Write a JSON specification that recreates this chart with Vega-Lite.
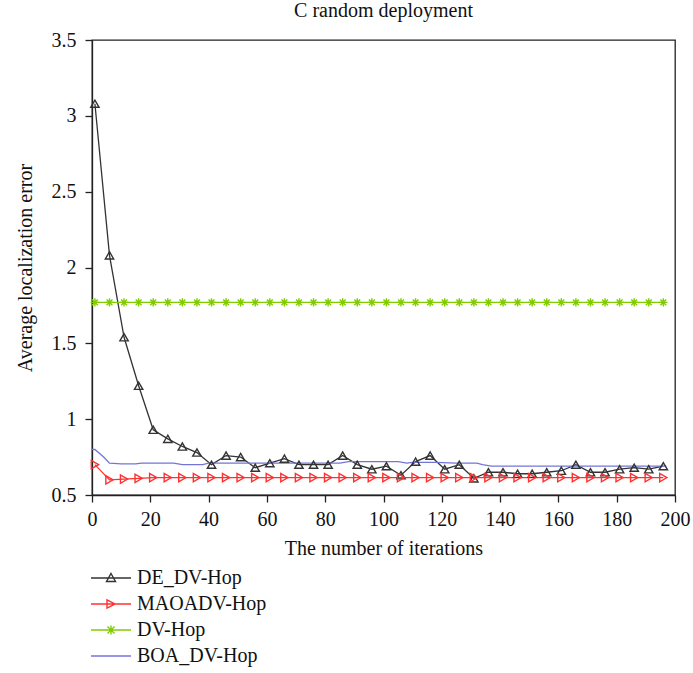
{
  "$schema": "https://vega.github.io/schema/vega-lite/v6.json",
  "autosize": {"type": "none"},
  "width": 583,
  "height": 455,
  "padding": {"left": 92, "top": 40, "right": 18, "bottom": 178},
  "background": "white",
  "config": {
    "font": "Liberation Serif",
    "view": {"stroke": "#222", "strokeWidth": 1.3},
    "axis": {"grid": false, "domainColor": "#222", "tickColor": "#222", "labelColor": "#111", "titleColor": "#111", "labelFontSize": 20, "titleFontSize": 20, "titleFontWeight": "normal", "labelFont": "Liberation Serif", "titleFont": "Liberation Serif", "tickSize": 7, "domainWidth": 1.3, "tickWidth": 1.3}
  },
  "title": {"text": "C random deployment", "fontSize": 20, "fontWeight": "normal", "font": "Liberation Serif", "color": "#111", "offset": 9, "anchor": "middle"},
  "datasets": {
    "pts": [
      {"s": "DE_DV-Hop", "x": 1, "y": 3.08},
      {"s": "DE_DV-Hop", "x": 6, "y": 2.08},
      {"s": "DE_DV-Hop", "x": 11, "y": 1.54},
      {"s": "DE_DV-Hop", "x": 16, "y": 1.22},
      {"s": "DE_DV-Hop", "x": 21, "y": 0.93},
      {"s": "DE_DV-Hop", "x": 26, "y": 0.87},
      {"s": "DE_DV-Hop", "x": 31, "y": 0.82},
      {"s": "DE_DV-Hop", "x": 36, "y": 0.78},
      {"s": "DE_DV-Hop", "x": 41, "y": 0.70},
      {"s": "DE_DV-Hop", "x": 46, "y": 0.76},
      {"s": "DE_DV-Hop", "x": 51, "y": 0.75},
      {"s": "DE_DV-Hop", "x": 56, "y": 0.68},
      {"s": "DE_DV-Hop", "x": 61, "y": 0.71},
      {"s": "DE_DV-Hop", "x": 66, "y": 0.74},
      {"s": "DE_DV-Hop", "x": 71, "y": 0.70},
      {"s": "DE_DV-Hop", "x": 76, "y": 0.70},
      {"s": "DE_DV-Hop", "x": 81, "y": 0.70},
      {"s": "DE_DV-Hop", "x": 86, "y": 0.76},
      {"s": "DE_DV-Hop", "x": 91, "y": 0.70},
      {"s": "DE_DV-Hop", "x": 96, "y": 0.67},
      {"s": "DE_DV-Hop", "x": 101, "y": 0.69},
      {"s": "DE_DV-Hop", "x": 106, "y": 0.63},
      {"s": "DE_DV-Hop", "x": 111, "y": 0.72},
      {"s": "DE_DV-Hop", "x": 116, "y": 0.76},
      {"s": "DE_DV-Hop", "x": 121, "y": 0.67},
      {"s": "DE_DV-Hop", "x": 126, "y": 0.70},
      {"s": "DE_DV-Hop", "x": 131, "y": 0.61},
      {"s": "DE_DV-Hop", "x": 136, "y": 0.65},
      {"s": "DE_DV-Hop", "x": 141, "y": 0.65},
      {"s": "DE_DV-Hop", "x": 146, "y": 0.64},
      {"s": "DE_DV-Hop", "x": 151, "y": 0.64},
      {"s": "DE_DV-Hop", "x": 156, "y": 0.65},
      {"s": "DE_DV-Hop", "x": 161, "y": 0.66},
      {"s": "DE_DV-Hop", "x": 166, "y": 0.70},
      {"s": "DE_DV-Hop", "x": 171, "y": 0.65},
      {"s": "DE_DV-Hop", "x": 176, "y": 0.65},
      {"s": "DE_DV-Hop", "x": 181, "y": 0.67},
      {"s": "DE_DV-Hop", "x": 186, "y": 0.68},
      {"s": "DE_DV-Hop", "x": 191, "y": 0.67},
      {"s": "DE_DV-Hop", "x": 196, "y": 0.69},

      {"s": "MAOADV-Hop", "x": 1, "y": 0.70},
      {"s": "MAOADV-Hop", "x": 6, "y": 0.60},
      {"s": "MAOADV-Hop", "x": 11, "y": 0.605},
      {"s": "MAOADV-Hop", "x": 16, "y": 0.61},
      {"s": "MAOADV-Hop", "x": 21, "y": 0.615},
      {"s": "MAOADV-Hop", "x": 26, "y": 0.615},
      {"s": "MAOADV-Hop", "x": 31, "y": 0.615},
      {"s": "MAOADV-Hop", "x": 36, "y": 0.615},
      {"s": "MAOADV-Hop", "x": 41, "y": 0.615},
      {"s": "MAOADV-Hop", "x": 46, "y": 0.615},
      {"s": "MAOADV-Hop", "x": 51, "y": 0.615},
      {"s": "MAOADV-Hop", "x": 56, "y": 0.615},
      {"s": "MAOADV-Hop", "x": 61, "y": 0.615},
      {"s": "MAOADV-Hop", "x": 66, "y": 0.615},
      {"s": "MAOADV-Hop", "x": 71, "y": 0.615},
      {"s": "MAOADV-Hop", "x": 76, "y": 0.615},
      {"s": "MAOADV-Hop", "x": 81, "y": 0.615},
      {"s": "MAOADV-Hop", "x": 86, "y": 0.615},
      {"s": "MAOADV-Hop", "x": 91, "y": 0.615},
      {"s": "MAOADV-Hop", "x": 96, "y": 0.615},
      {"s": "MAOADV-Hop", "x": 101, "y": 0.615},
      {"s": "MAOADV-Hop", "x": 106, "y": 0.615},
      {"s": "MAOADV-Hop", "x": 111, "y": 0.615},
      {"s": "MAOADV-Hop", "x": 116, "y": 0.615},
      {"s": "MAOADV-Hop", "x": 121, "y": 0.615},
      {"s": "MAOADV-Hop", "x": 126, "y": 0.615},
      {"s": "MAOADV-Hop", "x": 131, "y": 0.615},
      {"s": "MAOADV-Hop", "x": 136, "y": 0.615},
      {"s": "MAOADV-Hop", "x": 141, "y": 0.615},
      {"s": "MAOADV-Hop", "x": 146, "y": 0.615},
      {"s": "MAOADV-Hop", "x": 151, "y": 0.615},
      {"s": "MAOADV-Hop", "x": 156, "y": 0.615},
      {"s": "MAOADV-Hop", "x": 161, "y": 0.615},
      {"s": "MAOADV-Hop", "x": 166, "y": 0.615},
      {"s": "MAOADV-Hop", "x": 171, "y": 0.615},
      {"s": "MAOADV-Hop", "x": 176, "y": 0.615},
      {"s": "MAOADV-Hop", "x": 181, "y": 0.615},
      {"s": "MAOADV-Hop", "x": 186, "y": 0.615},
      {"s": "MAOADV-Hop", "x": 191, "y": 0.615},
      {"s": "MAOADV-Hop", "x": 196, "y": 0.615},

      {"s": "DV-Hop", "x": 1, "y": 1.77},
      {"s": "DV-Hop", "x": 6, "y": 1.77},
      {"s": "DV-Hop", "x": 11, "y": 1.77},
      {"s": "DV-Hop", "x": 16, "y": 1.77},
      {"s": "DV-Hop", "x": 21, "y": 1.77},
      {"s": "DV-Hop", "x": 26, "y": 1.77},
      {"s": "DV-Hop", "x": 31, "y": 1.77},
      {"s": "DV-Hop", "x": 36, "y": 1.77},
      {"s": "DV-Hop", "x": 41, "y": 1.77},
      {"s": "DV-Hop", "x": 46, "y": 1.77},
      {"s": "DV-Hop", "x": 51, "y": 1.77},
      {"s": "DV-Hop", "x": 56, "y": 1.77},
      {"s": "DV-Hop", "x": 61, "y": 1.77},
      {"s": "DV-Hop", "x": 66, "y": 1.77},
      {"s": "DV-Hop", "x": 71, "y": 1.77},
      {"s": "DV-Hop", "x": 76, "y": 1.77},
      {"s": "DV-Hop", "x": 81, "y": 1.77},
      {"s": "DV-Hop", "x": 86, "y": 1.77},
      {"s": "DV-Hop", "x": 91, "y": 1.77},
      {"s": "DV-Hop", "x": 96, "y": 1.77},
      {"s": "DV-Hop", "x": 101, "y": 1.77},
      {"s": "DV-Hop", "x": 106, "y": 1.77},
      {"s": "DV-Hop", "x": 111, "y": 1.77},
      {"s": "DV-Hop", "x": 116, "y": 1.77},
      {"s": "DV-Hop", "x": 121, "y": 1.77},
      {"s": "DV-Hop", "x": 126, "y": 1.77},
      {"s": "DV-Hop", "x": 131, "y": 1.77},
      {"s": "DV-Hop", "x": 136, "y": 1.77},
      {"s": "DV-Hop", "x": 141, "y": 1.77},
      {"s": "DV-Hop", "x": 146, "y": 1.77},
      {"s": "DV-Hop", "x": 151, "y": 1.77},
      {"s": "DV-Hop", "x": 156, "y": 1.77},
      {"s": "DV-Hop", "x": 161, "y": 1.77},
      {"s": "DV-Hop", "x": 166, "y": 1.77},
      {"s": "DV-Hop", "x": 171, "y": 1.77},
      {"s": "DV-Hop", "x": 176, "y": 1.77},
      {"s": "DV-Hop", "x": 181, "y": 1.77},
      {"s": "DV-Hop", "x": 186, "y": 1.77},
      {"s": "DV-Hop", "x": 191, "y": 1.77},
      {"s": "DV-Hop", "x": 196, "y": 1.77},

      {"s": "BOA_DV-Hop", "x": 0, "y": 0.80},
      {"s": "BOA_DV-Hop", "x": 1, "y": 0.80},
      {"s": "BOA_DV-Hop", "x": 4, "y": 0.75},
      {"s": "BOA_DV-Hop", "x": 6, "y": 0.71},
      {"s": "BOA_DV-Hop", "x": 10, "y": 0.705},
      {"s": "BOA_DV-Hop", "x": 15, "y": 0.705},
      {"s": "BOA_DV-Hop", "x": 17, "y": 0.71},
      {"s": "BOA_DV-Hop", "x": 28, "y": 0.71},
      {"s": "BOA_DV-Hop", "x": 31, "y": 0.70},
      {"s": "BOA_DV-Hop", "x": 38, "y": 0.70},
      {"s": "BOA_DV-Hop", "x": 40, "y": 0.71},
      {"s": "BOA_DV-Hop", "x": 85, "y": 0.71},
      {"s": "BOA_DV-Hop", "x": 88, "y": 0.72},
      {"s": "BOA_DV-Hop", "x": 105, "y": 0.72},
      {"s": "BOA_DV-Hop", "x": 108, "y": 0.71},
      {"s": "BOA_DV-Hop", "x": 110, "y": 0.715},
      {"s": "BOA_DV-Hop", "x": 118, "y": 0.715},
      {"s": "BOA_DV-Hop", "x": 125, "y": 0.71},
      {"s": "BOA_DV-Hop", "x": 132, "y": 0.71},
      {"s": "BOA_DV-Hop", "x": 134, "y": 0.70},
      {"s": "BOA_DV-Hop", "x": 137, "y": 0.69},
      {"s": "BOA_DV-Hop", "x": 197, "y": 0.69}
    ]
  },
  "data": {"name": "pts"},
  "encoding": {
    "x": {"field": "x", "type": "quantitative", "scale": {"domain": [0, 200], "nice": false}, "axis": {"values": [0, 20, 40, 60, 80, 100, 120, 140, 160, 180, 200], "title": "The number of iterations", "labelPadding": 7, "titlePadding": 9, "labelFlush": false}},
    "y": {"field": "y", "type": "quantitative", "scale": {"domain": [0.5, 3.5], "nice": false, "zero": false}, "axis": {"values": [0.5, 1, 1.5, 2, 2.5, 3, 3.5], "labelExpr": "'' + datum.value", "title": "Average localization error", "labelPadding": 9, "titlePadding": 16, "labelFlush": false}},
    "color": {
      "field": "s", "type": "nominal",
      "scale": {"domain": ["DE_DV-Hop", "MAOADV-Hop", "DV-Hop", "BOA_DV-Hop"], "range": ["#333333", "#ff3030", "#80cc00", "#7474d8"]},
      "legend": {
        "title": null, "orient": "none", "legendX": -2, "legendY": 527, "direction": "vertical",
        "labelFontSize": 20, "labelFont": "Liberation Serif", "labelColor": "#111",
        "symbolSize": 400, "labelOffset": 25, "rowPadding": 5,
        "symbolStrokeWidth": 1.4,
        "encode": {
          "symbols": {
            "update": {
              "shape": {"signal": "datum.value === 'DE_DV-Hop' ? 'M-1,0L3,0M1,-0.45L1.45,0.35L0.55,0.35Z' : datum.value === 'MAOADV-Hop' ? 'M-1,0L3,0M0.6,-0.42L1.4,0L0.6,0.42Z' : datum.value === 'DV-Hop' ? 'M-1,0L3,0M1,-0.45L1,0.45M0.65,-0.35L1.35,0.35M0.65,0.35L1.35,-0.35' : 'M-1,0L3,0'"},
              "fill": {"value": "transparent"},
              "stroke": {"scale": "color", "field": "value"},
              "strokeWidth": {"value": 1.4},
              "opacity": {"value": 1}
            }
          }
        }
      }
    }
  },
  "layer": [
    {"mark": {"type": "line", "strokeWidth": 1.3}, "encoding": {"order": {"field": "x"}}},
    {
      "transform": [{"filter": "datum.s !== 'BOA_DV-Hop'"}],
      "mark": {"type": "point", "filled": false, "strokeWidth": 1.4, "opacity": 1},
      "encoding": {
        "shape": {"field": "s", "type": "nominal", "scale": {"domain": ["DE_DV-Hop", "MAOADV-Hop", "DV-Hop"], "range": ["triangle-up", "triangle-right", "M-1,0L1,0M0,-1L0,1M-0.7,-0.7L0.7,0.7M-0.7,0.7L0.7,-0.7"]}, "legend": null},
        "size": {"value": 70}
      }
    }
  ]
}
